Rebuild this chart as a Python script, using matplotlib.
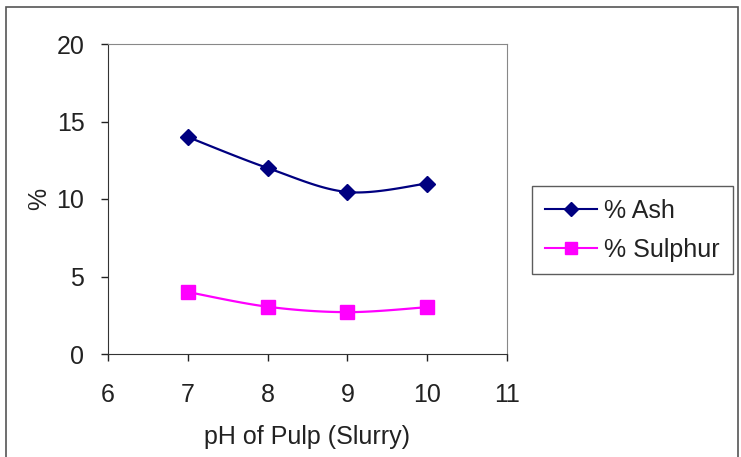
import numpy as np
import matplotlib.pyplot as plt
from matplotlib.patches import Rectangle
from matplotlib.lines import Line2D

plt.rcParams['font.family'] = ['Liberation Sans', 'DejaVu Sans']

ph = [7, 8, 9, 10]
ash = [14.0, 12.0, 10.45, 11.0]
sulphur = [4.0, 3.05, 2.7, 3.02]


# excel-like smoothed line through the points (cardinal spline)
def smooth(x, y, n=30, t=0.5):
    x = np.asarray(x, float)
    y = np.asarray(y, float)
    px = np.concatenate([[x[0]], x, [x[-1]]])
    py = np.concatenate([[y[0]], y, [y[-1]]])
    xs, ys = [], []
    s = np.linspace(0, 1, n)
    for i in range(1, len(px) - 2):
        p0, p1, p2, p3 = (np.array([px[j], py[j]]) for j in range(i - 1, i + 3))
        m1 = t * (p2 - p0)
        m2 = t * (p3 - p1)
        h00 = 2 * s**3 - 3 * s**2 + 1
        h10 = s**3 - 2 * s**2 + s
        h01 = -2 * s**3 + 3 * s**2
        h11 = s**3 - s**2
        pts = np.outer(h00, p1) + np.outer(h10, m1) + np.outer(h01, p2) + np.outer(h11, m2)
        xs.extend(pts[:, 0])
        ys.extend(pts[:, 1])
    return xs, ys


fs = 18
fig = plt.figure(figsize=(7.41, 4.57), dpi=100)
ax = fig.add_axes([108 / 741, 1 - 354 / 457, 399 / 741, 310 / 457])

sx, sy = smooth(ph, ash)
ax.plot(sx, sy, color='#000080', lw=1.6)
ax.plot(ph, ash, ls='none', marker='D', ms=8, color='#000080')
sx, sy = smooth(ph, sulphur)
ax.plot(sx, sy, color='#ff00ff', lw=1.6)
ax.plot(ph, sulphur, ls='none', marker='s', ms=9.5, color='#ff00ff')

ax.set_xlim(6, 11)
ax.set_ylim(0, 20)
ax.set_xticks([6, 7, 8, 9, 10, 11])
ax.set_yticks([0, 5, 10, 15, 20])
ax.tick_params(direction='out', length=5, width=1, labelsize=fs, colors='#222222')
ax.tick_params(axis='x', pad=16)
ax.tick_params(axis='y', pad=12)
for side in ['left', 'bottom']:
    ax.spines[side].set_color('#333333')
for side in ['top', 'right']:
    ax.spines[side].set_color('#888888')
ax.set_xlabel('pH of Pulp (Slurry)', fontsize=fs, labelpad=13, color='#222222')
ax.set_ylabel('%', fontsize=fs, labelpad=4, color='#222222')

# legend with line+marker samples
handles = [Line2D([], [], color='#000080', marker='D', ms=7, lw=1.5),
           Line2D([], [], color='#ff00ff', marker='s', ms=8, lw=1.5)]
leg = fig.legend(handles, ['% Ash', '% Sulphur'], loc='upper left',
                 bbox_to_anchor=(532 / 741, 1 - 186 / 457), fontsize=fs,
                 frameon=True, fancybox=False, edgecolor='#333333',
                 handlelength=2.1, handletextpad=0.3, borderaxespad=0,
                 borderpad=0.5, labelspacing=0.6)
leg.get_frame().set_linewidth(1)
for t in leg.get_texts():
    t.set_color('#222222')

# outer chart frame
fig.add_artist(Rectangle((6 / 741, -0.05), 732 / 741, 1.05 - 7 / 457,
                         transform=fig.transFigure, fill=False,
                         edgecolor='#555555', lw=1.2))

fig.savefig('out.png', dpi=100)
